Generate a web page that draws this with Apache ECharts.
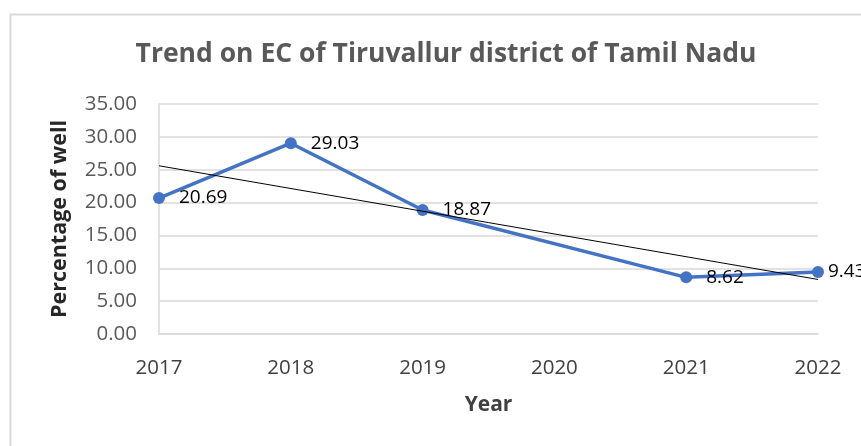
<!DOCTYPE html>
<html>
<head>
<meta charset="utf-8">
<title>Trend on EC of Tiruvallur district of Tamil Nadu</title>
<script src="https://cdn.jsdelivr.net/npm/echarts@6/dist/echarts.min.js"></script>
<style>
  html, body { margin: 0; padding: 0; background: #fff; }
  #chart { width: 861px; height: 446px; }
</style>
</head>
<body>
<div id="chart"></div>
<script>
// data
const years = [2017, 2018, 2019, 2021, 2022]
const ecValues = [20.69, 29.03, 18.87, 8.62, 9.43]
// linear trendline end points (as drawn)
const trendYears = [2017, 2022]
const trendValues = [25.6, 8.3]
const yTicks = [0, 5, 10, 15, 20, 25, 30, 35]

const blue = '#4472C4'
const gridGray = '#d9d9d9'
const font = '"Open Sans", "DejaVu Sans", sans-serif'

const chart = echarts.init(document.getElementById('chart'))

// last label sits closer to its point in the reference
const ecData = years.map((y, i) => {
  const item = { value: [y, ecValues[i]] }
  if (i === years.length - 1) item.label = { distance: 4 }
  return item
})

const option = {
  animation: false,
  backgroundColor: '#fff',
  title: {
    text: 'Trend on EC of Tiruvallur district of Tamil Nadu',
    left: 441,
    top: 36,
    textAlign: 'center',
    textStyle: {
      fontFamily: font,
      fontSize: 26.5,
      fontWeight: 'bold',
      color: '#595959'
    }
  },
  graphic: [
    {
      type: 'rect',
      left: 8,
      top: 12,
      silent: true,
      shape: { width: 1200, height: 800 },
      style: { fill: 'none', stroke: gridGray, lineWidth: 2 }
    }
  ],
  grid: {
    left: 159,
    right: 43,
    top: 104,
    bottom: 112
  },
  xAxis: {
    type: 'value',
    min: 2017,
    max: 2022,
    interval: 1,
    name: 'Year',
    nameLocation: 'middle',
    nameGap: 61,
    nameTextStyle: {
      fontFamily: font,
      fontSize: 21,
      fontWeight: 'bold',
      color: '#404040'
    },
    axisLine: { show: true, lineStyle: { color: gridGray, width: 1.5 } },
    axisTick: { show: false },
    splitLine: { show: false },
    axisLabel: {
      margin: 24,
      fontFamily: font,
      fontSize: 20.5,
      color: '#404040',
      formatter: v => String(v)
    }
  },
  yAxis: {
    type: 'value',
    min: yTicks[0],
    max: yTicks[yTicks.length - 1],
    interval: 5,
    name: 'Percentage of well',
    nameLocation: 'middle',
    nameGap: 88,
    nameTextStyle: {
      fontFamily: font,
      fontSize: 21.5,
      fontWeight: 'bold',
      color: '#262626'
    },
    axisLine: { show: true, lineStyle: { color: gridGray, width: 1.5 } },
    axisTick: { show: false },
    splitLine: { show: true, lineStyle: { color: gridGray, width: 1.5 } },
    axisLabel: {
      margin: 22,
      fontFamily: font,
      fontSize: 20.5,
      color: '#595959',
      formatter: v => v.toFixed(2)
    }
  },
  series: [
    {
      name: 'EC',
      type: 'line',
      data: ecData,
      symbol: 'circle',
      symbolSize: 12,
      itemStyle: { color: blue },
      lineStyle: { color: blue, width: 3.5 },
      label: {
        show: true,
        position: 'right',
        distance: 14,
        fontFamily: font,
        fontSize: 19,
        color: '#000',
        formatter: p => p.value[1].toFixed(2)
      },
      z: 3
    },
    {
      name: 'Linear (EC)',
      type: 'line',
      data: trendYears.map((y, i) => [y, trendValues[i]]),
      symbol: 'none',
      lineStyle: { color: '#000', width: 1 },
      z: 4
    }
  ]
}

chart.setOption(option)
</script>
</body>
</html>
